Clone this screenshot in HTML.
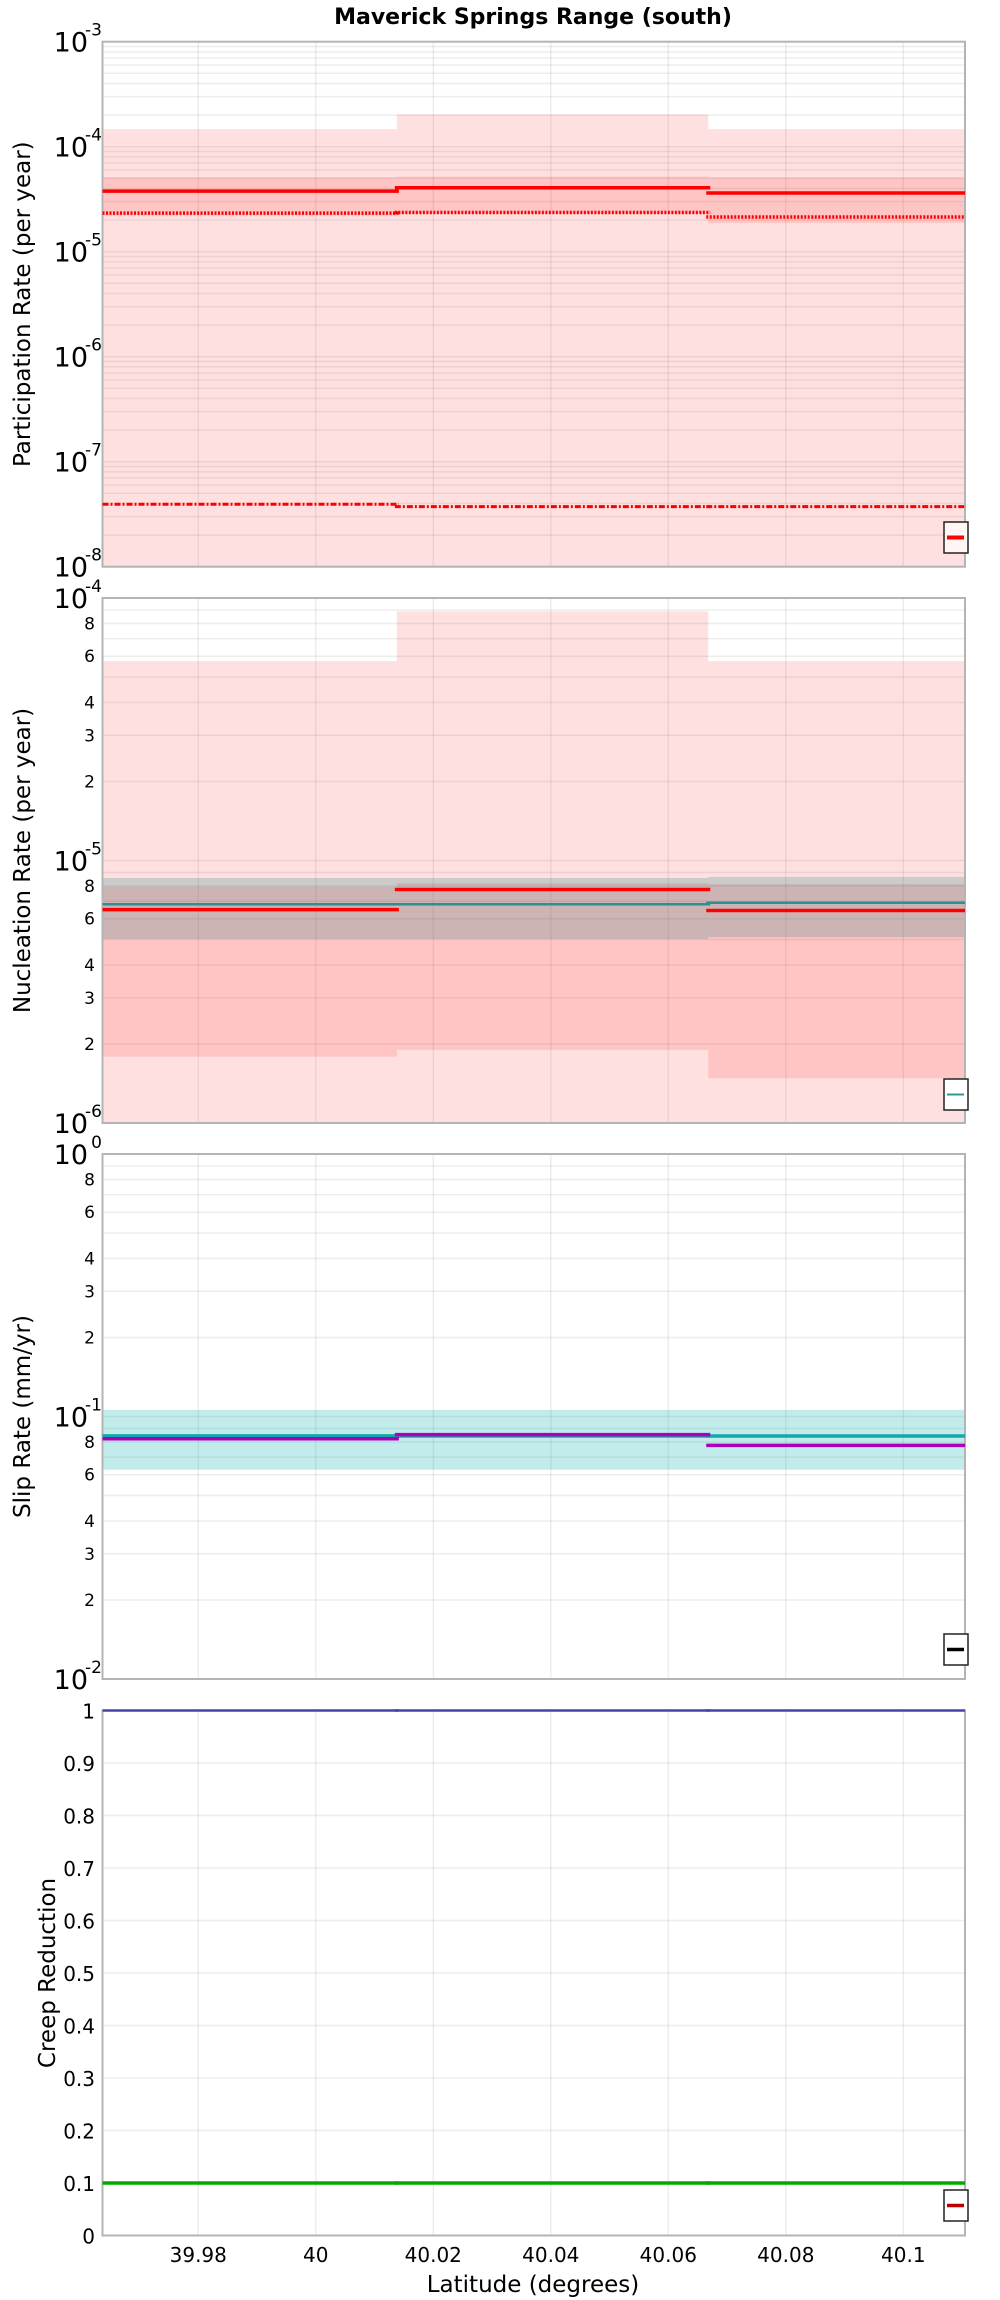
<!DOCTYPE html>
<html><head><meta charset="utf-8">
<style>
html,body{margin:0;padding:0;background:#fff;}
svg{display:block;font-family:"DejaVu Sans","Liberation Sans",sans-serif;}
</style></head>
<body>
<svg id="chart" width="1000" height="2300" viewBox="0 0 1000 2300" xmlns="http://www.w3.org/2000/svg">
<text x="533" y="24" text-anchor="middle" font-size="22" font-weight="bold">Maverick Springs Range (south)</text>
<text x="533" y="2292" text-anchor="middle" font-size="23">Latitude (degrees)</text>
</svg>
<script>
// ---- data ----
const xTicks = [39.98, 40, 40.02, 40.04, 40.06, 40.08, 40.1];
const xTickLabels = ["39.98", "40", "40.02", "40.04", "40.06", "40.08", "40.1"];
const segEdges = [39.9637, 40.0138, 40.0668, 40.1105];
// panel 1: participation rate
const partOuterTop = [1.47e-4, 2.03e-4, 1.47e-4];
const partOuterBot = [1e-9, 1e-9, 1e-9];
const partInnerTop = [5.1e-5, 5.2e-5, 5.1e-5];
const partInnerBot = [2.2e-5, 2.3e-5, 1.87e-5];
const partMean = [3.78e-5, 4.07e-5, 3.62e-5];
const partDotted = [2.33e-5, 2.36e-5, 2.14e-5];
const partDashDot = [3.93e-8, 3.73e-8, 3.73e-8];
// panel 2: nucleation rate
const nuclOuterTop = [5.75e-5, 8.9e-5, 5.75e-5];
const nuclOuterBot = [1e-7, 1e-7, 1e-7];
const nuclInnerTop = [7.95e-6, 8.2e-6, 8.13e-6];
const nuclInnerBot = [1.79e-6, 1.9e-6, 1.48e-6];
const nuclCyanTop = [8.58e-6, 8.58e-6, 8.66e-6];
const nuclCyanBot = [5.02e-6, 5.02e-6, 5.1e-6];
const nuclRed = [6.5e-6, 7.75e-6, 6.45e-6];
const nuclTeal = [6.81e-6, 6.81e-6, 6.9e-6];
// panel 3: slip rate
const slipCyanTop = [0.106, 0.106, 0.106];
const slipCyanBot = [0.0627, 0.0627, 0.0627];
const slipTeal = [0.0844, 0.0843, 0.0843];
const slipPurple = [0.0823, 0.0853, 0.0776];
// panel 4: creep reduction
const creepBlue = [1, 1, 1];
const creepGreen = [0.1, 0.1, 0.1];
const creepTicks = [0, 0.1, 0.2, 0.3, 0.4, 0.5, 0.6, 0.7, 0.8, 0.9, 1];

// ---- layout ----
const svg = document.getElementById('chart');
const NS = 'http://www.w3.org/2000/svg';
const L = 102.5, R = 965, H = 525;
const X0 = 39.9637, X1 = 40.1105;
const xs = v => L + (v - X0) / (X1 - X0) * (R - L);
function mk(tag, attrs, parent) {
  const e = document.createElementNS(NS, tag);
  for (const k in attrs) e.setAttribute(k, attrs[k]);
  (parent || svg).appendChild(e);
  return e;
}
function logScale(top, dmax, dmin) {
  return v => top + (dmax - Math.log10(v)) / (dmax - dmin) * H;
}
function clampY(y, top) { return Math.max(top, Math.min(top + H, y)); }

function panel(name, top) {
  const g = mk('g', {});
  
  
  mk('rect', {x: L, y: top, width: R - L, height: H, fill: '#fff'}, g);
  return g;
}
function grid(g, top, ys, yVals) {
  yVals.forEach(v => {
    const y = ys(v);
    const l = mk('line', {x1: L, x2: R, y1: y, y2: y, stroke: 'rgba(0,0,0,0.07)', 'stroke-width': 1.5}, g);
    
    
  });
  xTicks.forEach(v => {
    const x = xs(v);
    const l = mk('line', {x1: x, x2: x, y1: top, y2: top + H, stroke: 'rgba(0,0,0,0.07)', 'stroke-width': 1.5}, g);
    
    
  });
}
function band(g, top, ys, hi, lo, fill, nm) {
  for (let i = 0; i < hi.length; i++) {
    const y1 = clampY(ys(hi[i]), top), y2 = clampY(ys(lo[i]), top);
    const r = mk('rect', {x: xs(segEdges[i]), y: y1, width: xs(segEdges[i + 1]) - xs(segEdges[i]), height: y2 - y1, fill: fill}, g);
    
    
  }
}
function steps(g, top, ys, vals, color, w, dash, nm) {
  for (let i = 0; i < vals.length; i++) {
    const y = ys(vals[i]);
    const l = mk('line', {x1: xs(segEdges[i]) - (i ? 2 : 0), x2: xs(segEdges[i + 1]) + (i < vals.length - 1 ? 2 : 0), y1: y, y2: y, stroke: color, 'stroke-width': w}, g);
    if (dash) l.setAttribute('stroke-dasharray', dash);
    
    
  }
}
function frame(g, top) {
  const r = mk('rect', {x: L, y: top, width: R - L, height: H, fill: 'none', stroke: '#b4b4b4', 'stroke-width': 2}, g);
  
  
}
function legend(g, y0, color, w, bg) {
  const r = mk('rect', {x: 944, y: y0, width: 24, height: 31, fill: bg || '#fff', stroke: '#222', 'stroke-width': 1.5}, g);
  
  
  const l = mk('line', {x1: 947, x2: 964, y1: y0 + 15.5, y2: y0 + 15.5, stroke: color, 'stroke-width': w}, g);
  
  
}
function decadeLabel(g, y, exp) {
  const t = mk('text', {x: 88, y: y + 10, 'text-anchor': 'end', 'font-size': 27}, g);
  
  
  t.textContent = '10';
  const s = mk('text', {x: 102, y: y - 6, 'text-anchor': 'end', 'font-size': 17}, g);
  
  
  s.textContent = exp === 0 ? '0' : '-' + exp;
}
function minorLabel(g, y, txt) {
  const t = mk('text', {x: 95, y: y + 6, 'text-anchor': 'end', 'font-size': 17}, g);
  
  
  t.textContent = txt;
}
function yTitle(g, top, txt, x) {
  const cy = top + H / 2;
  const t = mk('text', {x: x, y: cy, 'text-anchor': 'middle', 'font-size': 23, transform: `rotate(-90 ${x} ${cy})`}, g);
  
  
  t.textContent = txt;
}
function logGridVals(dmin, dmax) {
  const a = [];
  for (let d = dmin; d < dmax; d++) for (let m = 1; m < 10; m++) a.push(m * Math.pow(10, d));
  a.push(Math.pow(10, dmax));
  return a;
}

// ---- panel 1 ----
{
  const top = 41.7, ys = logScale(top, -3, -8);
  const g = panel('participation-panel', top);
  grid(g, top, ys, logGridVals(-8, -3));
  band(g, top, ys, partOuterTop, partOuterBot, 'rgba(255,0,0,0.12)', 'participation-outer-band');
  band(g, top, ys, partInnerTop, partInnerBot, 'rgba(255,0,0,0.12)', 'participation-inner-band');
  frame(g, top);
  steps(g, top, ys, partMean, '#ff0000', 3.5, null, 'participation-mean-line');
  steps(g, top, ys, partDotted, '#ff0000', 3.5, '2,1.5', 'participation-dotted-line');
  steps(g, top, ys, partDashDot, '#ff0000', 3, '6,2,2,2', 'participation-dashdot-line');
  legend(g, 522, '#ff0000', 4, '#fff5f5');
  for (let e = 3; e <= 8; e++) decadeLabel(g, ys(Math.pow(10, -e)), e);
  yTitle(g, top, 'Participation Rate (per year)', 30);
}
// ---- panel 2 ----
{
  const top = 598, ys = logScale(top, -4, -6);
  const g = panel('nucleation-panel', top);
  grid(g, top, ys, logGridVals(-6, -4));
  band(g, top, ys, nuclOuterTop, nuclOuterBot, 'rgba(255,0,0,0.12)', 'nucleation-outer-band');
  band(g, top, ys, nuclInnerTop, nuclInnerBot, 'rgba(255,0,0,0.12)', 'nucleation-inner-band');
  band(g, top, ys, nuclCyanTop, nuclCyanBot, 'rgba(0,120,120,0.2)', 'nucleation-teal-band');
  frame(g, top);
  steps(g, top, ys, nuclTeal, '#2a9090', 2.5, null, 'nucleation-teal-line');
  steps(g, top, ys, nuclRed, '#ff0000', 3.5, null, 'nucleation-red-line');
  legend(g, 1079, '#2a9a9a', 2, '#fff');
  decadeLabel(g, ys(1e-4), 4); decadeLabel(g, ys(1e-5), 5); decadeLabel(g, ys(1e-6), 6);
  [8, 6, 4, 3, 2].forEach(m => { minorLabel(g, ys(m * 1e-5), m); minorLabel(g, ys(m * 1e-6), m); });
  yTitle(g, top, 'Nucleation Rate (per year)', 30);
}
// ---- panel 3 ----
{
  const top = 1154, ys = logScale(top, 0, -2);
  const g = panel('slip-rate-panel', top);
  grid(g, top, ys, logGridVals(-2, 0));
  band(g, top, ys, slipCyanTop, slipCyanBot, 'rgba(0,170,170,0.24)', 'slip-rate-band');
  frame(g, top);
  steps(g, top, ys, slipTeal, '#11aaaa', 3.5, null, 'slip-rate-teal-line');
  steps(g, top, ys, slipPurple, '#aa00bb', 3.5, null, 'slip-rate-purple-line');
  legend(g, 1634, '#000', 3.5, '#fff');
  decadeLabel(g, ys(1), 0); decadeLabel(g, ys(0.1), 1); decadeLabel(g, ys(0.01), 2);
  [8, 6, 4, 3, 2].forEach(m => { minorLabel(g, ys(m * 0.1), m); minorLabel(g, ys(m * 0.01), m); });
  yTitle(g, top, 'Slip Rate (mm/yr)', 30);
}
// ---- panel 4 ----
{
  const top = 1710.5, ys = v => top + (1 - v) * H;
  const g = panel('creep-panel', top);
  grid(g, top, ys, creepTicks);
  frame(g, top);
  steps(g, top, ys, creepBlue, '#4444aa', 2.5, null, 'creep-blue-line');
  steps(g, top, ys, creepGreen, '#00aa00', 3.5, null, 'creep-green-line');
  legend(g, 2190, '#bb0000', 3.5, '#fff');
  creepTicks.forEach(v => {
    const t = mk('text', {x: 95, y: ys(v) + 8, 'text-anchor': 'end', 'font-size': 20}, g);
    
    
    t.textContent = String(v);
  });
  yTitle(g, top, 'Creep Reduction', 55);
  xTicks.forEach((v, i) => {
    const t = mk('text', {x: xs(v), y: 2262, 'text-anchor': 'middle', 'font-size': 20}, g);
    
    
    t.textContent = xTickLabels[i];
  });
}
</script>
</body></html>
